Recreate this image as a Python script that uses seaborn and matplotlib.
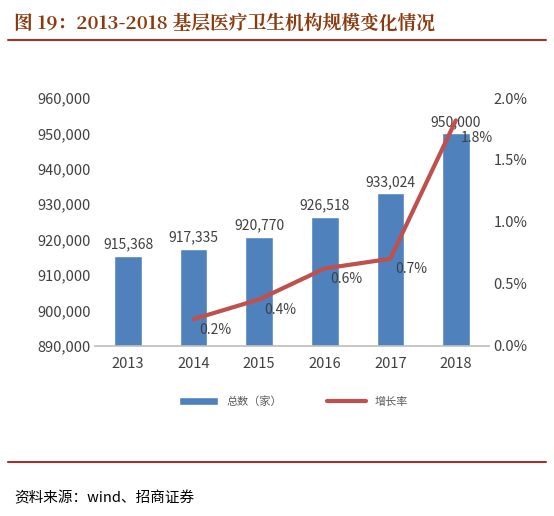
import matplotlib
matplotlib.use("Agg")
import matplotlib.pyplot as plt
import seaborn as sns
import pandas as pd
from matplotlib.ticker import FuncFormatter

years = ["2013", "2014", "2015", "2016", "2017", "2018"]
totals = [915368, 917335, 920770, 926518, 933024, 950000]
growth_years = ["2014", "2015", "2016", "2017", "2018"]
growth = [0.215, 0.374, 0.624, 0.702, 1.82]
growth_labels = ["0.2%", "0.4%", "0.6%", "0.7%", "1.8%"]

sns.set_theme(style="white")
plt.rcParams['font.family'] = ['Noto Sans CJK SC', 'DejaVu Sans']

fig = plt.figure(figsize=(5.54, 5.16), dpi=100)
ax = fig.add_axes([0.172, 0.33, 0.71, 0.48])
df = pd.DataFrame({"year": years, "total": totals})
sns.barplot(data=df, x="year", y="total", color="#4F81BD", saturation=1, width=0.42, ax=ax, label="总数（家）")
ax.set_ylim(890000, 960000)
ax.set_yticks(range(890000, 960001, 10000))
ax.yaxis.set_major_formatter(FuncFormatter(lambda v, p: f"{int(v):,}"))
ax.set_xlabel(""); ax.set_ylabel("")
for i, v in enumerate(totals):
    ax.text(i, v + 1200, f"{v:,}", ha="center", va="bottom", fontsize=10, color="#404040")

ax2 = ax.twinx()
xpos = [years.index(y) for y in growth_years]
sns.lineplot(x=xpos, y=growth, color="#C0504D", linewidth=3, ax=ax2, label="增长率", legend=False)
ax2.set_ylim(0, 2.0)
ax2.set_yticks([0, 0.5, 1.0, 1.5, 2.0])
ax2.yaxis.set_major_formatter(FuncFormatter(lambda v, p: f"{v:.1f}%"))
for x, v, t in zip(xpos, growth, growth_labels):
    dy = 0.09 if t == "1.8%" else 0.03
    ax2.text(x + 0.08, v - dy, t, ha="left", va="top", fontsize=10, color="#404040")

for a in (ax, ax2):
    for s in a.spines.values():
        s.set_visible(False)
    a.tick_params(colors="#404040", labelsize=10.5, length=0)
ax.tick_params(axis="x", pad=8)
ax.spines["bottom"].set_visible(True)
ax.spines["bottom"].set_color("#BFBFBF")
ax.set_xlim(-0.5, 5.5)

h1, l1 = ax.get_legend_handles_labels()
h2, l2 = ax2.get_legend_handles_labels()
if ax.get_legend(): ax.get_legend().remove()
fig.legend(h1 + h2, l1 + l2, loc="center", bbox_to_anchor=(0.53, 0.222), ncol=2,
           frameon=False, fontsize=8, labelcolor="#595959", columnspacing=4, handlelength=3.5)

red = "#A0342A"
fig.text(0.025, 0.955, "图 19：2013-2018 基层医疗卫生机构规模变化情况", fontsize=13.5,
         fontweight="bold", color="#8B3A0E", va="center",
         family=['Noto Serif CJK SC', 'Noto Sans CJK SC', 'DejaVu Sans'])
fig.add_artist(plt.Line2D([0.015, 0.985], [0.922, 0.922], color=red, lw=1.5))
fig.add_artist(plt.Line2D([0.015, 0.985], [0.105, 0.105], color=red, lw=1.5))
fig.text(0.025, 0.035, "资料来源：wind、招商证券", fontsize=10.5, color="black", va="center")
fig.savefig("out.png", dpi=100)
